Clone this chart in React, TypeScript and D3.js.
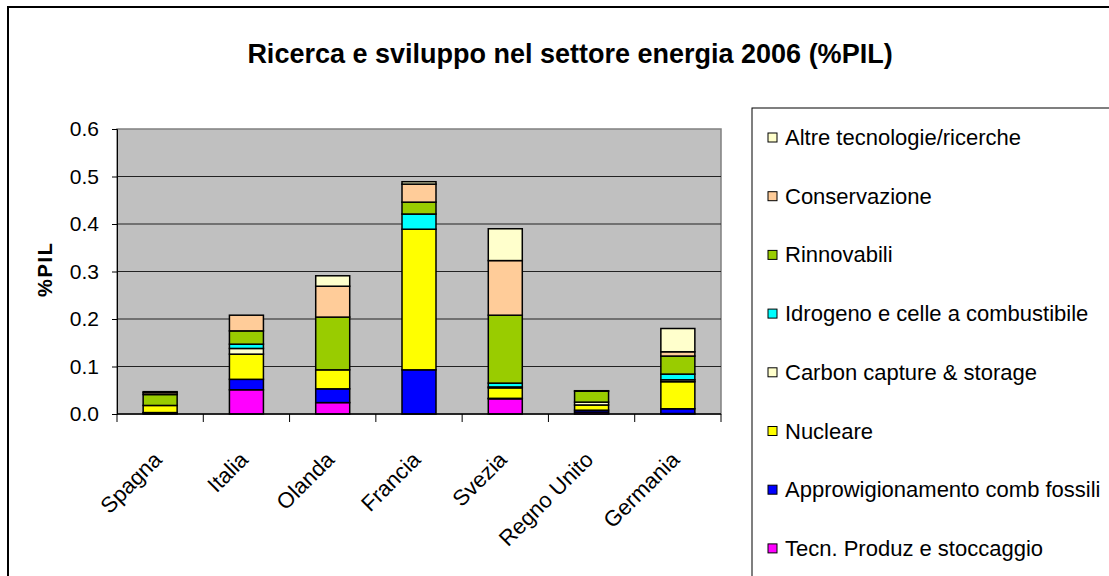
import React, { useEffect, useRef } from 'react';
import * as d3 from 'd3';

// countries on the x axis
const countries = ['Spagna', 'Italia', 'Olanda', 'Francia', 'Svezia', 'Regno Unito', 'Germania'];

// series, from bottom of the stack to top
const seriesNames = [
    'Tecn. Produz e stoccaggio',
    'Approwigionamento comb fossili',
    'Nucleare',
    'Carbon capture & storage',
    'Idrogeno e celle a combustibile',
    'Rinnovabili',
    'Conservazione',
    'Altre tecnologie/ricerche',
];
const seriesColors = ['#FF00FF', '#0000FF', '#FFFF00', '#FFFFCC', '#00FFFF', '#99CC00', '#FFCC99', '#FFFFCC'];

// % PIL values per series, one per country
const tecnProduz = [0.002, 0.051, 0.024, 0.0, 0.032, 0.004, 0.001];
const approvFossili = [0.001, 0.022, 0.029, 0.093, 0.001, 0.004, 0.010];
const nucleare = [0.015, 0.053, 0.040, 0.296, 0.022, 0.011, 0.057];
const carbonCapture = [0.0, 0.012, 0.0, 0.0, 0.002, 0.006, 0.004];
const idrogeno = [0.0, 0.009, 0.0, 0.032, 0.008, 0.0, 0.012];
const rinnovabili = [0.023, 0.028, 0.111, 0.025, 0.143, 0.023, 0.038];
const conservazione = [0.004, 0.033, 0.065, 0.038, 0.115, 0.001, 0.009];
const altre = [0.002, 0.0, 0.022, 0.005, 0.067, 0.0, 0.049];

const seriesValues = [tecnProduz, approvFossili, nucleare, carbonCapture, idrogeno, rinnovabili, conservazione, altre];

const yTicks = [0, 0.1, 0.2, 0.3, 0.4, 0.5, 0.6];
const legendOrder = [7, 6, 5, 4, 3, 2, 1, 0];

const FONT = 'Arial, "Liberation Sans", sans-serif';

const App = () => {
    const svgRef = useRef<SVGSVGElement>(null);

    useEffect(() => {
        if (!svgRef.current) return;
        const svg = d3.select(svgRef.current);
        svg.selectAll('*').remove();

        const W = 1109, H = 576;
        const plot = { left: 117, right: 721, top: 129, bottom: 414 };

        // outer frame
        svg.append('rect')
            .attr('x', 8).attr('y', 7)
            .attr('width', W + 20).attr('height', H + 20)
            .attr('fill', '#fff').attr('stroke', '#000').attr('stroke-width', 2);

        // title
        svg.append('text')
            .attr('x', 570).attr('y', 63)
            .attr('text-anchor', 'middle')
            .style('font-family', FONT)
            .style('font-size', '27px')
            .style('font-weight', 'bold')
            .text('Ricerca e sviluppo nel settore energia 2006 (%PIL)');

        const table = countries.map((c, i) => {
            const row: any = { country: c };
            seriesNames.forEach((s, k) => { row[s] = seriesValues[k][i]; });
            return row;
        });

        const x = d3.scaleBand<string>()
            .domain(countries)
            .range([plot.left, plot.right])
            .paddingInner(0.606)
            .paddingOuter(0.303);

        const y = d3.scaleLinear()
            .domain([0, 0.6])
            .range([plot.bottom, plot.top]);

        // plot area
        svg.append('rect')
            .attr('x', plot.left).attr('y', plot.top)
            .attr('width', plot.right - plot.left).attr('height', plot.bottom - plot.top)
            .attr('fill', '#C0C0C0').attr('stroke', '#808080').attr('stroke-width', 1.5);

        // gridlines
        svg.append('g')
            .selectAll('line')
            .data(yTicks.filter(t => t > 0 && t < 0.6))
            .enter()
            .append('line')
            .attr('x1', plot.left).attr('x2', plot.right)
            .attr('y1', d => y(d)).attr('y2', d => y(d))
            .attr('stroke', '#222').attr('stroke-width', 1);

        // y axis
        const yAxis = svg.append('g')
            .attr('transform', `translate(${plot.left},0)`)
            .call(d3.axisLeft(y).tickValues(yTicks).tickFormat(d3.format('.1f')).tickSize(5).tickPadding(13));
        yAxis.select('.domain').attr('stroke', '#000');
        yAxis.selectAll('.tick line').attr('stroke', '#000');
        yAxis.selectAll('text')
            .attr('fill', '#000')
            .style('font-family', FONT)
            .style('font-size', '21px');

        // y label
        svg.append('text')
            .attr('transform', 'translate(52,270) rotate(-90)')
            .attr('text-anchor', 'middle')
            .attr('textLength', 54)
            .style('font-family', FONT)
            .style('font-size', '20px')
            .style('font-weight', 'bold')
            .text('%PIL');

        // bars
        const stack = d3.stack().keys(seriesNames);
        const layers = stack(table);

        svg.append('g')
            .selectAll('g')
            .data(layers)
            .enter()
            .append('g')
            .attr('fill', (d, i) => seriesColors[i])
            .selectAll('rect')
            .data(d => d.map((v, i) => ({ v, c: countries[i] })))
            .enter()
            .filter(d => d.v[1] - d.v[0] > 0)
            .append('rect')
            .attr('x', d => x(d.c)!)
            .attr('width', x.bandwidth())
            .attr('y', d => y(d.v[1]))
            .attr('height', d => y(d.v[0]) - y(d.v[1]))
            .attr('stroke', '#000')
            .attr('stroke-width', 1.5);

        // x axis
        svg.append('line')
            .attr('x1', plot.left).attr('x2', plot.right)
            .attr('y1', plot.bottom).attr('y2', plot.bottom)
            .attr('stroke', '#000').attr('stroke-width', 1.5);

        const step = x.step();
        svg.append('g')
            .selectAll('line')
            .data(d3.range(countries.length + 1))
            .enter()
            .append('line')
            .attr('x1', i => plot.left + i * step).attr('x2', i => plot.left + i * step)
            .attr('y1', plot.bottom).attr('y2', plot.bottom + 8)
            .attr('stroke', '#000');

        svg.append('g')
            .selectAll('text')
            .data(countries)
            .enter()
            .append('text')
            .attr('transform', d => `translate(${x(d)! + x.bandwidth() / 2 + 3},${plot.bottom + 47}) rotate(-45)`)
            .attr('text-anchor', 'end')
            .style('font-family', FONT)
            .style('font-size', '22px')
            .text(d => d);

        // legend
        svg.append('rect')
            .attr('x', 752).attr('y', 108)
            .attr('width', 400).attr('height', 500)
            .attr('fill', '#fff').attr('stroke', '#000').attr('stroke-width', 1);

        const legend = svg.append('g');
        legendOrder.forEach((k, i) => {
            const cy = 137 + i * 58.7;
            legend.append('rect')
                .attr('x', 768).attr('y', cy - 4)
                .attr('width', 9).attr('height', 9)
                .attr('fill', seriesColors[k])
                .attr('stroke', '#000').attr('stroke-width', 1);
            legend.append('text')
                .attr('x', 785).attr('y', cy + 8)
                .style('font-family', FONT)
                .style('font-size', '22px')
                .text(seriesNames[k]);
        });
    }, []);

    return (
        <div style={{ position: 'absolute', left: 0, top: 0 }}>
            <svg ref={svgRef} width={1109} height={576} style={{ display: 'block' }}></svg>
        </div>
    );
};

export default App;
